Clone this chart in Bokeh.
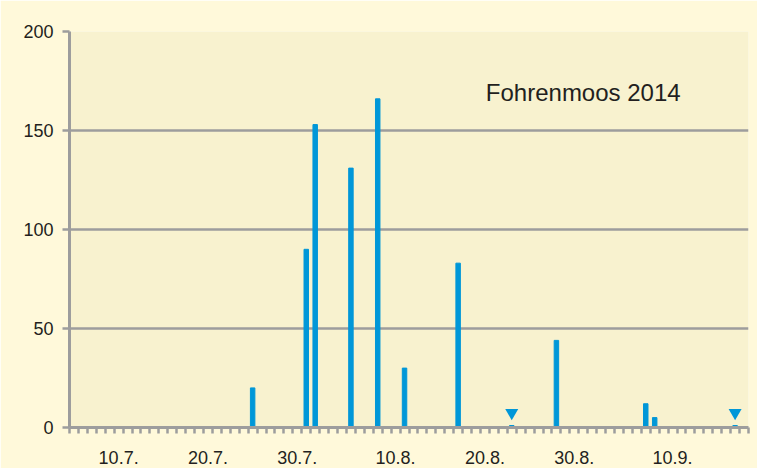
from bokeh.plotting import figure
from bokeh.models import Range1d, FixedTicker, Label, ColumnDataSource
from bokeh.embed import file_html
from bokeh.resources import INLINE

# Day index: 1 = 1 July 2014
days = [25, 31, 32, 36, 39, 42, 48, 54, 59, 69, 70, 79]
counts = [20, 90, 153, 131, 166, 30, 83, 1, 44, 12, 5, 1]
marker_days = [54, 79]
marker_level = [7.5, 7.5]
tick_days = [10, 20, 30, 41, 51, 61, 72]
tick_labels = ["10.7.", "20.7.", "30.7.", "10.8.", "20.8.", "30.8.", "10.9."]
y_ticks = [0, 50, 100, 150, 200]
title_text = "Fohrenmoos 2014"

FONT = "Liberation Sans"
GRAY = "#9d9d9d"
TEXT = "#231f20"
BLUE = "#0097d8"

p = figure(width=757, height=468, output_backend="svg", toolbar_location=None,
           x_range=Range1d(4.5, 80.5), y_range=Range1d(0, 200),
           min_border_left=69, min_border_right=9, min_border_top=31, min_border_bottom=41)
p.background_fill_color = "#f8f2cf"
p.border_fill_color = "#fff9da"
p.outline_line_color = None

src = ColumnDataSource(dict(day=days, n=counts))
p.vbar(x="day", top="n", width=0.5, bottom=0, color=BLUE, source=src)
p.scatter(marker_days, marker_level, marker="inverted_triangle", size=13,
          color=BLUE, line_color=None)

# Axes
xa = p.xaxis[0]
xa.ticker = FixedTicker(ticks=tick_days, minor_ticks=[d + 0.5 for d in range(4, 81)])
xa.major_label_overrides = {d: l for d, l in zip(tick_days, tick_labels)}
xa.major_tick_out = 0
xa.major_tick_in = 0
xa.minor_tick_out = 6
xa.minor_tick_in = 0
xa.minor_tick_line_color = GRAY
xa.minor_tick_line_width = 2.5
xa.axis_line_color = GRAY
xa.axis_line_width = 3
xa.major_label_standoff = 17
xa.major_label_text_font = FONT
xa.major_label_text_font_size = "18px"
xa.major_label_text_color = TEXT

ya = p.yaxis[0]
ya.ticker = FixedTicker(ticks=y_ticks)
ya.major_tick_out = 7
ya.major_tick_in = 0
ya.major_tick_line_color = GRAY
ya.major_tick_line_width = 2.5
ya.minor_tick_line_color = None
ya.axis_line_color = GRAY
ya.axis_line_width = 3
ya.major_label_standoff = 9
ya.major_label_text_font = FONT
ya.major_label_text_font_size = "18px"
ya.major_label_text_color = TEXT

p.xgrid.grid_line_color = None
p.ygrid.ticker = FixedTicker(ticks=y_ticks[1:])
p.ygrid.grid_line_color = GRAY
p.ygrid.grid_line_width = 2.5

p.add_layout(Label(x=51.1, y=169, text=title_text, text_font=FONT,
                   text_font_size="24px", text_color=TEXT, text_baseline="alphabetic"))

open("out.html", "w").write(file_html(p, INLINE))
